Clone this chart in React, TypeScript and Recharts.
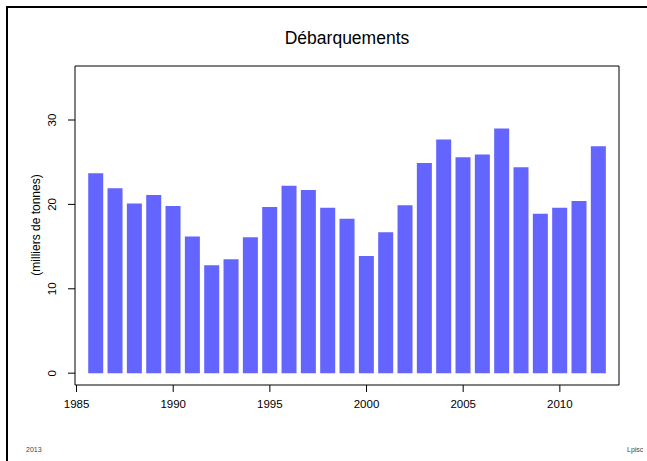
import { BarChart, Bar, XAxis, YAxis, ReferenceArea } from 'recharts';

const years = [
  1986, 1987, 1988, 1989, 1990, 1991, 1992, 1993, 1994, 1995, 1996, 1997, 1998, 1999,
  2000, 2001, 2002, 2003, 2004, 2005, 2006, 2007, 2008, 2009, 2010, 2011, 2012,
];
const landings = [
  23.7, 21.9, 20.1, 21.1, 19.8, 16.2, 12.8, 13.5, 16.1, 19.7, 22.2, 21.7, 19.6, 18.3,
  13.9, 16.7, 19.9, 24.9, 27.7, 25.6, 25.9, 29.0, 24.4, 18.9, 19.6, 20.4, 26.9,
];
const xTicks = [1985, 1990, 1995, 2000, 2005, 2010];
const yTicks = [0, 10, 20, 30];

const data = years.map((y, i) => ({ year: y, value: landings[i] }));

const FONT = '"Liberation Sans", Arial, Helvetica, sans-serif';
const X_DOMAIN = [1984.92, 2013.06];
const Y_DOMAIN = [-1.4, 36.4];

const YTick = (props: any) => {
  const { x, y, payload } = props;
  return (
    <text
      x={0}
      y={0}
      transform={`translate(${x - 10},${y}) rotate(-90)`}
      textAnchor="middle"
      fontSize={11.5}
      fontFamily={FONT}
      fill="#000"
    >
      {payload.value}
    </text>
  );
};

export default function App() {
  return (
    <div style={{ position: 'absolute', left: 0, top: 0, width: 647, height: 461, background: '#fff', overflow: 'hidden' }}>
      {/* outer frame, only top and left visible */}
      <div style={{ position: 'absolute', left: 6, top: 6, width: 660, height: 480, borderTop: '2px solid #000', borderLeft: '2px solid #000' }} />
      <div style={{ position: 'absolute', left: 0, width: 694, top: 28, textAlign: 'center', fontFamily: FONT, fontSize: 17.5, color: '#000' }}>
        Débarquements
      </div>
      <div
        style={{
          position: 'absolute', left: 36, top: 225, transform: 'translate(-50%, -50%) rotate(-90deg)',
          fontFamily: FONT, fontSize: 12, whiteSpace: 'nowrap', color: '#000',
        }}
      >
        (milliers de tonnes)
      </div>
      <div style={{ position: 'absolute', left: 26, top: 446, fontFamily: FONT, fontSize: 7, color: '#444' }}>2013</div>
      <div style={{ position: 'absolute', left: 627, top: 446, fontFamily: FONT, fontSize: 7, color: '#444' }}>Lpisc</div>
      <BarChart
        width={647}
        height={461}
        data={data}
        margin={{ top: 66, right: 28, bottom: 46, left: 15 }}
        style={{ position: 'absolute', left: 0, top: 0 }}
      >
        <XAxis
          dataKey="year"
          type="number"
          domain={X_DOMAIN}
          ticks={xTicks}
          allowDataOverflow
          height={30}
          axisLine={false}
          tickLine={{ stroke: '#000' }}
          tickSize={7}
          tick={{ fontSize: 11.5, fontFamily: FONT, fill: '#000' }}
          tickMargin={8}
        />
        <YAxis
          type="number"
          domain={Y_DOMAIN}
          ticks={yTicks}
          allowDataOverflow
          width={60}
          axisLine={false}
          tickLine={{ stroke: '#000' }}
          tickSize={7}
          tick={<YTick />}
        />
        <ReferenceArea
          x1={X_DOMAIN[0]}
          x2={X_DOMAIN[1]}
          y1={Y_DOMAIN[0]}
          y2={Y_DOMAIN[1]}
          fill="none"
          stroke="#000"
          strokeWidth={1}
        />
        <Bar dataKey="value" fill="#6464FF" barSize={15} isAnimationActive={false} />
      </BarChart>
    </div>
  );
}
